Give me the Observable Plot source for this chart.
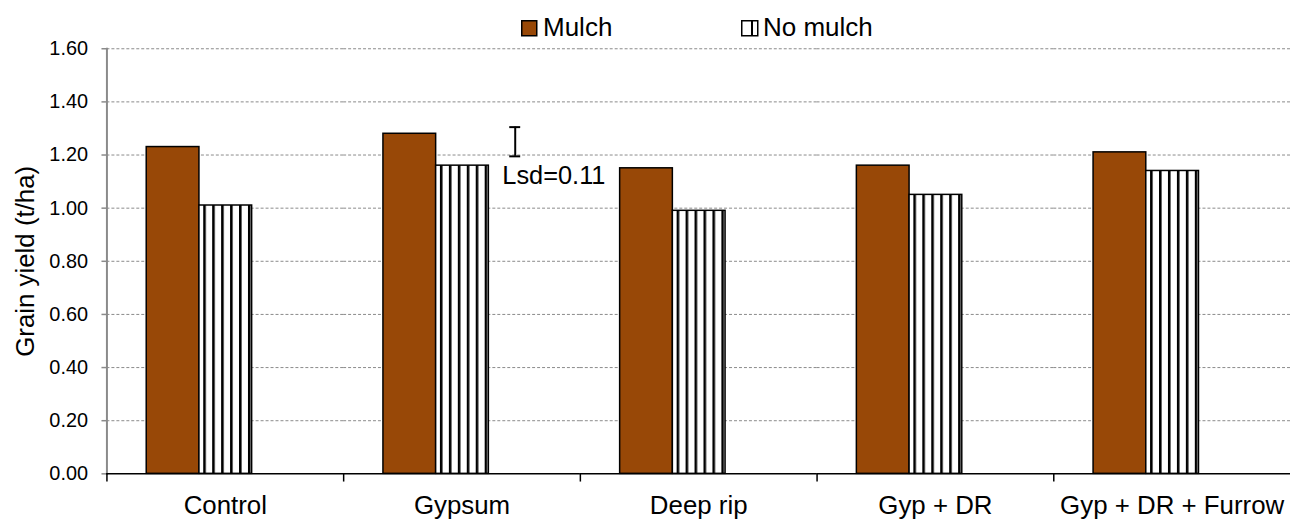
<!DOCTYPE html>
<html>
<head>
<meta charset="utf-8">
<script src="https://cdn.jsdelivr.net/npm/d3@7"></script>
<script src="https://cdn.jsdelivr.net/npm/@observablehq/plot@0.6"></script>
<style>
html, body { margin: 0; padding: 0; background: #fff; overflow: hidden; width: 1293px; height: 519px; }
#legend { position: relative; height: 40px; font-family: "Liberation Sans", Arial, sans-serif; font-size: 26px; color: #000; }
#legend .sw { position: absolute; top: 20px; }
#legend .lt { position: absolute; top: 14px; line-height: 26px; white-space: nowrap; }
</style>
</head>
<body>
<div id="legend">
  <svg class="sw" style="left:521px" width="17" height="17"><rect x="0.75" y="0.75" width="15" height="15" fill="#984807" stroke="#000" stroke-width="1.5"/></svg>
  <span class="lt" style="left:543px">Mulch</span>
  <svg class="sw" style="left:741px" width="18" height="17"><rect x="0.75" y="0.75" width="16" height="15" fill="#fff" stroke="#000" stroke-width="1.5"/><line x1="11" x2="11" y1="0.75" y2="15.75" stroke="#000" stroke-width="2"/></svg>
  <span class="lt" style="left:763px">No mulch</span>
</div>
<div id="chart"></div>
<script>
// ---- data ----
const categories = ["Control", "Gypsum", "Deep rip", "Gyp + DR", "Gyp + DR + Furrow"];
const seriesNames = ["Mulch", "No mulch"];
const mulch = [1.23, 1.28, 1.15, 1.16, 1.21];
const noMulch = [1.01, 1.16, 0.99, 1.05, 1.14];
const lsdCategory = "Gypsum";
const lsdSeries = "Lsd";
const lsdCenter = 1.25;
const lsdValue = 0.11;
const yTicks = [0, 0.2, 0.4, 0.6, 0.8, 1.0, 1.2, 1.4, 1.6];
const yLabel = "Grain yield (t/ha)";

// ---- tables ----
const rows = categories.flatMap((c, i) => [
  {cat: c, series: seriesNames[0], value: mulch[i]},
  {cat: c, series: seriesNames[1], value: noMulch[i]}
]);
const lsdRows = [{
  cat: lsdCategory, series: lsdSeries,
  lo: lsdCenter - lsdValue / 2, hi: lsdCenter + lsdValue / 2,
  label: `Lsd=${lsdValue}`
}];

// ---- layout ----
const W = 1300, H = 485, mL = 105, mR = 1.5, mT = 8.3, mB = 49.3;
const plotH = H - mT - mB;
const FONT = '"Liberation Sans", Arial, sans-serif';

const chart = Plot.plot({
  width: W, height: H,
  marginLeft: mL, marginRight: mR, marginTop: mT, marginBottom: mB,
  style: {fontFamily: FONT, fontSize: "20px", background: "white", color: "black", overflow: "visible"},
  fx: {domain: categories, padding: 0, label: null},
  x: {domain: [...seriesNames, lsdSeries], paddingInner: 0, paddingOuter: 0.73, align: 0.5, axis: null},
  y: {domain: [0, 1.6], label: null},
  marks: [
    Plot.gridY(yTicks.filter(d => d > 0), {stroke: "#8a8a8a", strokeOpacity: 1, strokeDasharray: "3,2", strokeWidth: 1}),
    Plot.frame({anchor: "left", facetAnchor: "left", stroke: "#8a8a8a", strokeWidth: 2}),
    Plot.axisY({ticks: yTicks, tickSize: 5, tickPadding: 14, tickFormat: d3.format(".2f"), stroke: "#8a8a8a", strokeWidth: 1.5, fontSize: 20, label: null}),
    Plot.text([yLabel], {frameAnchor: "left", facetAnchor: "left", textAnchor: "middle", lineAnchor: "middle", rotate: -90, dx: -81.3, fontSize: 26, fill: "black"}),
    Plot.barY(rows.filter(d => d.series === seriesNames[0]), {fx: "cat", x: "series", y: "value", fill: "#984807", stroke: "black", strokeWidth: 1.5}),
    Plot.barY(rows.filter(d => d.series === seriesNames[1]), {fx: "cat", x: "series", y: "value", fill: "url(#vstripe)", stroke: "black", strokeWidth: 1.5}),
    Plot.ruleY([0], {stroke: "black", strokeWidth: 1.5}),
    Plot.frame({anchor: "left", insetTop: plotH, insetBottom: -7, stroke: "black", strokeWidth: 1.5}),
    Plot.axisFx({anchor: "bottom", tickSize: 0, tickPadding: 21.5, fontSize: 26, label: null}),
    Plot.ruleX(lsdRows, {fx: "cat", x: "series", y1: "lo", y2: "hi", stroke: "black", strokeWidth: 2}),
    Plot.tickY(lsdRows, {fx: "cat", x: "series", y: "lo", stroke: "black", strokeWidth: 2, insetLeft: 21, insetRight: 21}),
    Plot.tickY(lsdRows, {fx: "cat", x: "series", y: "hi", stroke: "black", strokeWidth: 2, insetLeft: 21, insetRight: 21}),
    Plot.text(lsdRows, {fx: "cat", x: "series", y: "lo", text: "label", textAnchor: "start", dx: -13, dy: 19.5, fontSize: 25.5, fill: "black"})
  ]
});

// stripe pattern for "No mulch"
const defs = d3.select(chart).insert("defs", ":first-child");
const pat = defs.append("pattern").attr("id", "vstripe").attr("patternUnits", "userSpaceOnUse")
  .attr("width", 9).attr("height", 9).attr("x", 4.3);
pat.append("rect").attr("width", 9).attr("height", 9).attr("fill", "white");
pat.append("rect").attr("width", 2.6).attr("height", 9).attr("fill", "black");

document.getElementById("chart").appendChild(chart);
</script>
</body>
</html>
